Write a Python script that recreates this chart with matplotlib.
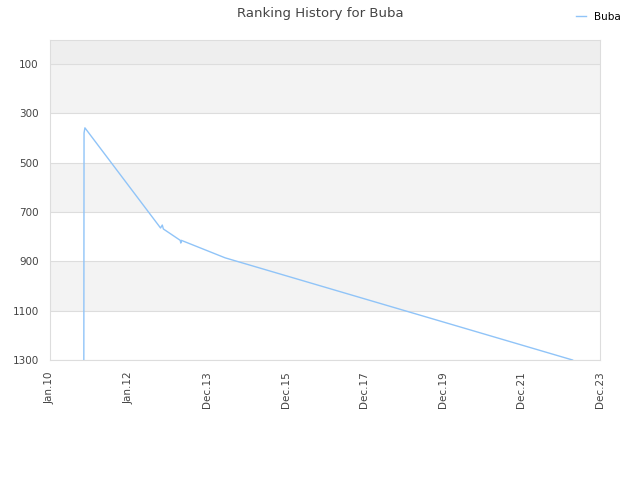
import matplotlib
matplotlib.use("Agg")
import matplotlib.pyplot as plt
import matplotlib.dates as mdates
import numpy as np
import pandas as pd

dates = ["2010-11-10", "2010-11-12", "2010-11-20", "2012-10-20", "2012-11-05",
         "2012-11-15", "2013-04-20", "2013-04-25", "2013-04-30", "2014-06-10", "2023-03-29"]
ranks = [1300, 380, 359, 765, 753, 769, 815, 826, 815, 886, 1300]
tick_labels = ["Jan.10", "Jan.12", "Dec.13", "Dec.15", "Dec.17", "Dec.19", "Dec.21", "Dec.23"]
yticks = [100, 300, 500, 700, 900, 1100, 1300]

x = mdates.date2num(pd.to_datetime(dates))
x0 = mdates.date2num(pd.Timestamp("2010-01-01"))
x1 = mdates.date2num(pd.Timestamp("2023-12-08"))

fig = plt.figure(figsize=(6.4, 4.8), dpi=100)
ax = fig.add_axes([50/640, 1-360/480, 550/640, 320/480])

# bands
ax.axhspan(0, 100, color="#eeeeee", zorder=0, lw=0)
for lo in [100, 500, 900]:
    ax.axhspan(lo, lo+200, color="#f3f3f3", zorder=0, lw=0)
for yv in yticks:
    ax.axhline(yv, color="#dddddd", lw=0.8, zorder=1)

ax.plot(x, ranks, color="#90c4f8", lw=1.0, label="Buba", zorder=3)

ax.set_xlim(x0, x1)
ax.set_ylim(1300, 3)
ax.set_yticks(yticks)
ax.set_xticks(np.linspace(x0, x1, len(tick_labels)))
ax.set_xticklabels(tick_labels, rotation=90)
ax.tick_params(axis="both", labelsize=7.5, colors="#444444", length=0, pad=8)
for s in ax.spines.values():
    s.set_color("#dddddd")

fig.suptitle("Ranking History for Buba", y=0.985, fontsize=9.5, color="#444444")
fig.legend(loc="upper right", bbox_to_anchor=(0.985, 0.995), frameon=False, fontsize=7.5,
           handlelength=1.0, handletextpad=0.8)

fig.savefig("out.png", dpi=100)
